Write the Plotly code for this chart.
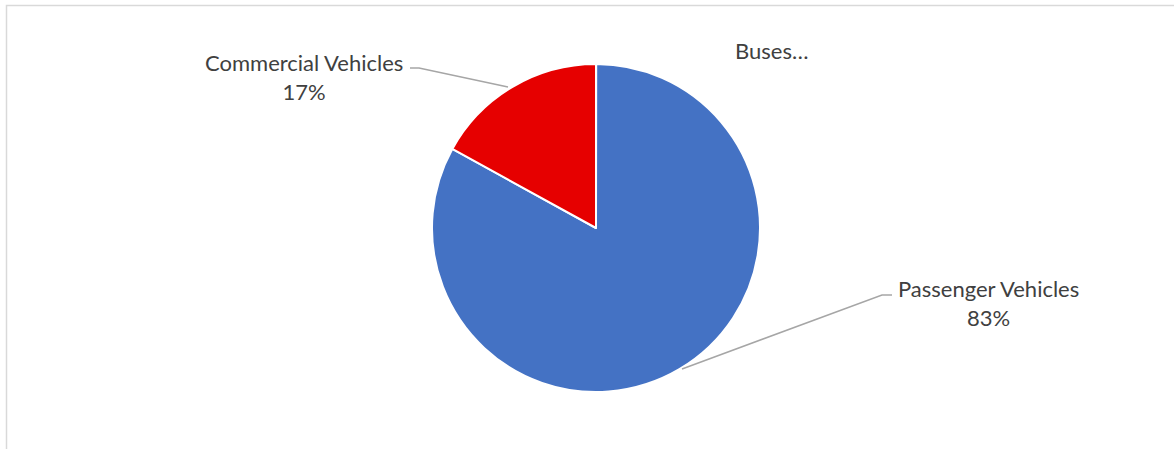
import plotly.graph_objects as go

# Data
categories = ["Buses", "Passenger Vehicles", "Commercial Vehicles"]
values = [0.02, 83, 17]
colors = ["#A5A5A5", "#4472C4", "#E60000"]

W, H = 1174, 449

def px(x):
    return x / W

def py(y):
    return 1 - y / H

# pie placement (pixels)
cx, cy, r = 596, 228, 164

fig = go.Figure()
fig.add_trace(go.Pie(
    labels=categories,
    values=values,
    sort=False,
    direction="clockwise",
    rotation=0,
    textinfo="none",
    marker=dict(colors=colors, line=dict(color="white", width=2)),
    domain=dict(x=[px(cx - r), px(cx + r)], y=[py(cy + r), py(cy - r)]),
    showlegend=False,
))

total = sum(values)
pct = {c: round(v / total * 100) for c, v in zip(categories, values)}

font = dict(family="Lato, Liberation Sans, sans-serif", size=22, color="#404040")

label_pos = {
    "Commercial Vehicles": (304, 77),
    "Passenger Vehicles": (988, 303),
}
annotations = []
for c, (x, y) in label_pos.items():
    annotations.append(dict(
        x=px(x), y=py(y), xref="paper", yref="paper",
        text=f"{c}<br>{pct[c]}%", showarrow=False,
        xanchor="center", yanchor="middle", align="center", font=font,
    ))
annotations.append(dict(
    x=px(771), y=py(50), xref="paper", yref="paper",
    text="Buses…", showarrow=False, xanchor="center", yanchor="middle", font=font,
))

shapes = []
# chart border
shapes.append(dict(type="rect", xref="paper", yref="paper",
                   x0=px(6.5), x1=px(W + 10), y0=py(H + 10), y1=py(5.5),
                   line=dict(color="#D9D9D9", width=1.5)))
# leader lines
leaders = [
    [(410, 68), (419, 68), (508, 87)],
    [(892, 295), (882, 295), (682, 369)],
]
for pts in leaders:
    path = "M " + " L ".join(f"{px(x)},{py(y)}" for x, y in pts)
    shapes.append(dict(type="path", xref="paper", yref="paper", path=path,
                       line=dict(color="#A6A6A6", width=1.5)))

fig.update_layout(
    width=W, height=H,
    margin=dict(l=0, r=0, t=0, b=0),
    paper_bgcolor="white",
    plot_bgcolor="white",
    annotations=annotations,
    shapes=shapes,
)

fig.write_html("out.html",
               config={"displayModeBar": False},
               post_script="document.body.style.margin='0';document.body.style.overflow='hidden';")
